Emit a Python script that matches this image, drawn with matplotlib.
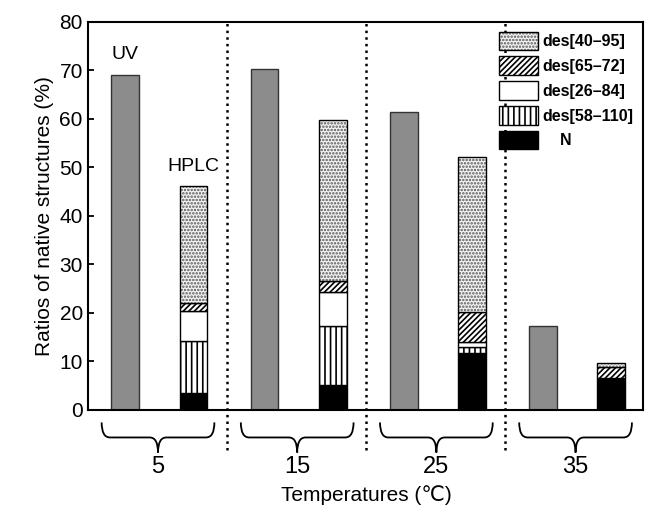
#!/usr/bin/env python3
# UV vs HPLC ratios of native structures at four temperatures

import matplotlib
matplotlib.use("Agg")
import matplotlib.pyplot as plt
import numpy as np
from matplotlib.path import Path
from matplotlib.patches import PathPatch
from matplotlib.legend_handler import HandlerPatch

plt.rcParams['font.family'] = ['Liberation Sans', 'DejaVu Sans']
plt.rcParams['hatch.linewidth'] = 1.2

temps = ['5', '15', '25', '35']
uv = [69.1, 70.2, 61.4, 17.3]

# HPLC stacked pieces, bottom to top
hplc_n = [3.5, 5.2, 11.7, 6.5]
hplc_58_110 = [10.6, 12.1, 1.2, 0.0]
hplc_26_84 = [6.2, 6.9, 1.1, 0.0]
hplc_65_72 = [1.7, 2.3, 6.1, 2.4]
hplc_40_95 = [24.2, 33.3, 32.0, 0.7]


def brace(ax, x0, x1, ytop, ytip):
    """ curly brace opening upward, tip pointing down """
    xc = (x0 + x1) / 2
    ymid = (ytop + ytip) / 2
    r = 0.06
    verts = [
        (x0, ytop), (x0, ymid), (x0 + r, ymid),
        (xc - r, ymid),
        (xc, ymid), (xc, ytip),
        (xc, ymid), (xc + r, ymid),
        (x1 - r, ymid),
        (x1, ymid), (x1, ytop),
    ]
    codes = [Path.MOVETO, Path.CURVE3, Path.CURVE3,
             Path.LINETO,
             Path.CURVE3, Path.CURVE3,
             Path.CURVE3, Path.CURVE3,
             Path.LINETO,
             Path.CURVE3, Path.CURVE3]
    patch = PathPatch(Path(verts, codes), fill=False, lw=1.3, color='black',
                      clip_on=False)
    ax.add_patch(patch)


class OutlinedHandler(HandlerPatch):
    def create_artists(self, legend, orig_handle, xdescent, ydescent,
                       width, height, fontsize, trans):
        p = plt.Rectangle((-xdescent, -ydescent), width, height,
                          facecolor=orig_handle.get_facecolor(),
                          edgecolor=orig_handle.get_edgecolor(),
                          hatch=orig_handle.get_hatch(), lw=0,
                          transform=trans)
        o = plt.Rectangle((-xdescent, -ydescent), width, height,
                          fill=False, edgecolor='black', lw=1.0,
                          transform=trans)
        return [p, o]


def ratio_plot():
    fig = plt.figure(figsize=(6.45, 5.11), dpi=100)
    ax = fig.add_axes([0.136, 0.198, 0.861, 0.759])

    x = np.arange(len(temps))
    w = 0.2
    xu = x + 0.27
    xh = x + 0.76

    ax.bar(xu, uv, w, color='#8c8c8c', edgecolor='#333333', lw=1.0)

    bottom = np.zeros(len(temps))
    layers = [
        (hplc_n, 'black', 'black', None, 'N'),
        (hplc_58_110, 'white', 'black', '|||', 'des[58\u2013110]'),
        (hplc_26_84, 'white', 'black', None, 'des[26\u201384]'),
        (hplc_65_72, 'white', 'black', '//////', 'des[65\u201372]'),
        (hplc_40_95, '#f4f4f4', '#555555', '.....', 'des[40\u201395]'),
    ]
    handles = []
    for vals, fc, hc, hatch, lab in layers:
        # fill + hatch in hatch colour, then a black outline on top
        ax.bar(xh, vals, w, bottom=bottom, color=fc, edgecolor=hc,
               lw=0, hatch=hatch)
        ax.bar(xh, vals, w, bottom=bottom, fill=False, edgecolor='black',
               lw=1.0)
        proxy = plt.Rectangle((0, 0), 1, 1, facecolor=fc, edgecolor=hc,
                              hatch=hatch, lw=0)
        handles.append((proxy, lab))
        bottom = bottom + np.array(vals)

    # dotted group separators
    for s in [1, 2, 3]:
        ax.plot([s, s], [-8.2, 80], ls=':', color='black', lw=1.8,
                clip_on=False)

    ax.text(xu[0], 71.5, 'UV', ha='center', va='bottom', fontsize=14)
    ax.text(xh[0], 48.5, 'HPLC', ha='center', va='bottom', fontsize=14)

    for i, t in enumerate(temps):
        brace(ax, i + 0.1, i + 0.91, -2.6, -8.8)
        ax.text(i + 0.505, -11.7, t, ha='center', va='center', fontsize=17)

    ax.text(2.0, -17.5, 'Temperatures (\u2103)', ha='center', va='center',
            fontsize=15)

    ax.set_xlim(0, 3.99)
    ax.set_ylim(0, 80)
    ax.set_yticks(np.arange(0, 81, 10))
    ax.set_xticks([])
    ax.tick_params(axis='y', direction='in', labelsize=15, length=4, width=1.3)
    for sp in ax.spines.values():
        sp.set_linewidth(1.5)
    ax.set_ylabel('Ratios of native structures (%)', fontsize=15, labelpad=4)

    hs = [h for h, _ in handles[::-1]]
    labs = [l for _, l in handles[::-1]]
    labs[-1] = '    N'
    ax.legend(hs, labs, loc='upper right', frameon=False,
              prop={'weight': 'bold', 'size': 11.5}, handlelength=2.4,
              handleheight=1.4, labelspacing=0.4, handletextpad=0.3,
              borderaxespad=0.2,
              handler_map={plt.Rectangle: OutlinedHandler()})

    fig.savefig('out.png', dpi=100)
    plt.close(fig)


def main():
    ratio_plot()


if __name__ == "__main__":
    main()
